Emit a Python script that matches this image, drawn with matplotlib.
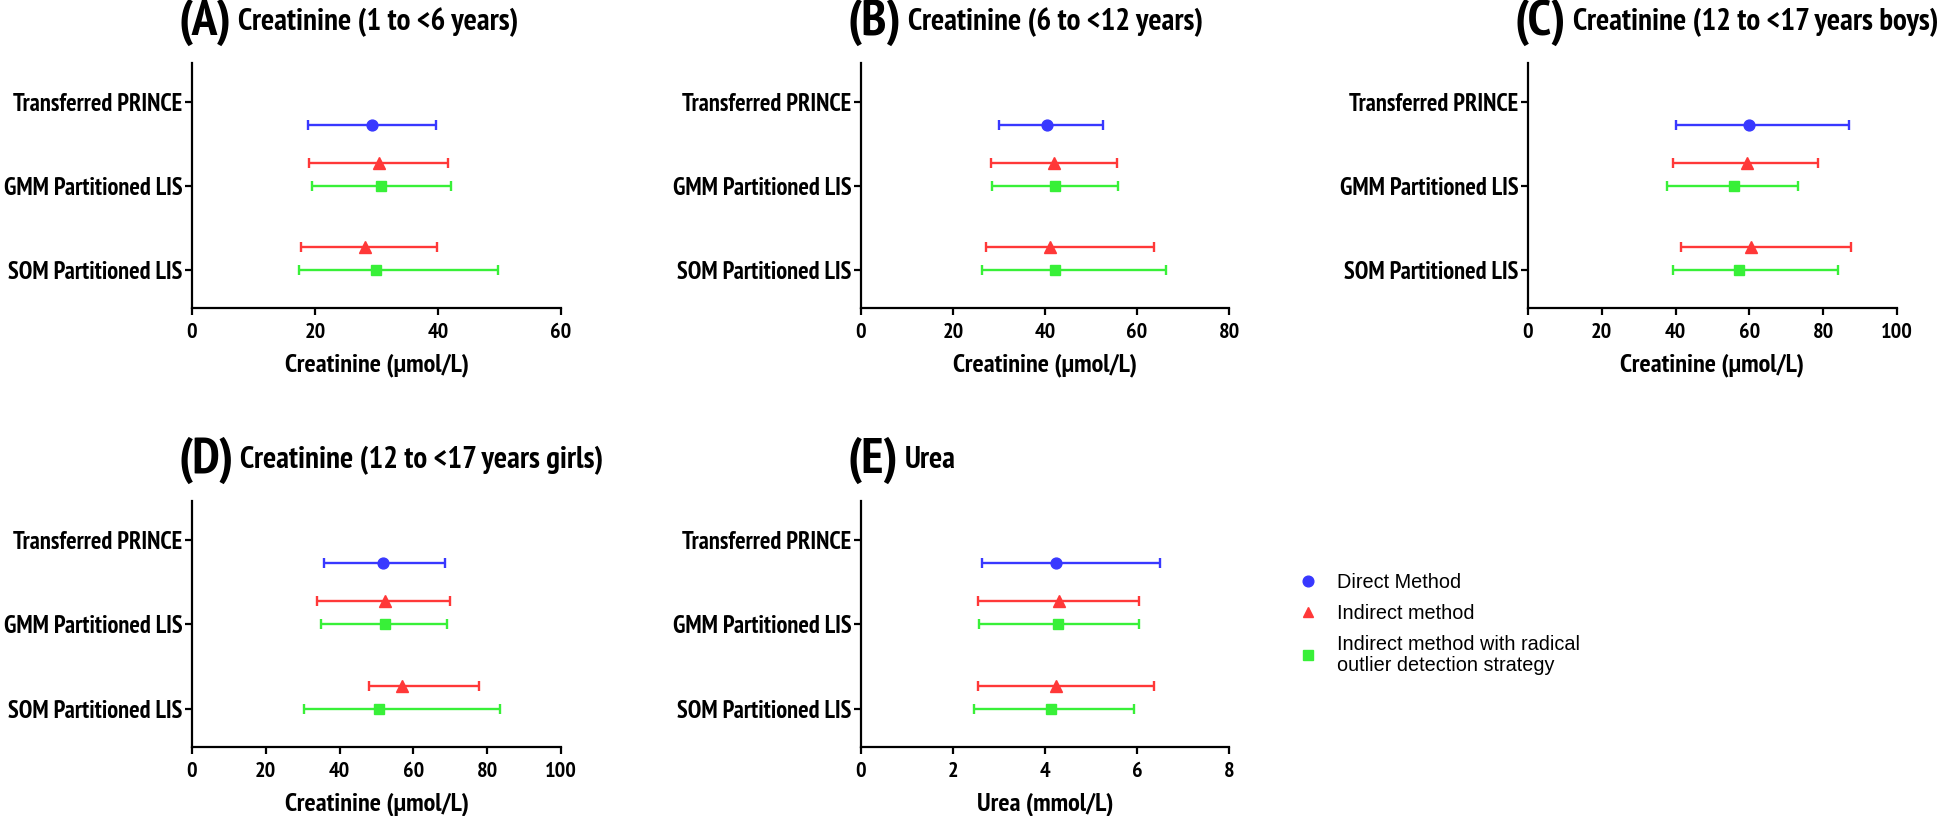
import matplotlib
matplotlib.use("Agg")
import matplotlib.pyplot as plt
from matplotlib import font_manager as fm
from matplotlib.lines import Line2D

# ---------------- data ----------------
categories = ["Transferred PRINCE", "GMM Partitioned LIS", "SOM Partitioned LIS"]
legend_labels = ["Direct Method", "Indirect method",
                 "Indirect method with radical\noutlier detection strategy"]

panel_letters = ["(A)", "(B)", "(C)", "(D)", "(E)"]
panel_titles = ["Creatinine (1 to <6 years)", "Creatinine (6 to <12 years)",
                "Creatinine (12 to <17 years boys)", "Creatinine (12 to <17 years girls)",
                "Urea"]
x_labels = ["Creatinine (\u03bcmol/L)", "Creatinine (\u03bcmol/L)", "Creatinine (\u03bcmol/L)",
            "Creatinine (\u03bcmol/L)", "Urea (mmol/L)"]
x_max = [60, 80, 100, 100, 8]
x_step = [20, 20, 20, 20, 2]

# Direct method (Transferred PRINCE): [low, center, high]
direct = [
    [18.9, 29.3, 39.6],
    [29.9, 40.5, 52.5],
    [40.2, 60.0, 87.1],
    [35.8, 51.7, 68.6],
    [2.62, 4.24, 6.50],
]
# Indirect method: GMM, SOM rows -> [low, center, high]
indirect = [
    [[19.1, 30.4, 41.7], [17.8, 28.2, 39.9]],
    [[28.2, 41.9, 55.6], [27.1, 41.0, 63.8]],
    [[39.4, 59.3, 78.6], [41.4, 60.4, 87.5]],
    [[34.0, 52.2, 69.9], [48.0, 56.9, 77.7]],
    [[2.54, 4.31, 6.05], [2.55, 4.24, 6.36]],
]
# Indirect method with radical outlier detection: GMM, SOM
radical = [
    [[19.5, 30.7, 42.1], [17.4, 29.9, 49.7]],
    [[28.5, 42.2, 55.8], [26.4, 42.2, 66.2]],
    [[37.7, 55.8, 73.3], [39.4, 57.2, 84.0]],
    [[35.0, 52.4, 69.1], [30.4, 50.6, 83.6]],
    [[2.57, 4.29, 6.05], [2.45, 4.12, 5.93]],
]

# ---------------- style ----------------
BLUE = "#3838FF"
RED = "#FF3838"
GREEN = "#38F038"

ttf = fm.fontManager.ttflist
names = {f.name for f in ttf}


def pick_condensed():
    for f in ttf:
        if "Narrow" in f.name and f.weight in (700, "bold"):
            return dict(family=f.name)
    for f in ttf:
        if "Condensed" in f.name and f.weight in (700, "bold"):
            return dict(family=f.name)
    for f in ttf:
        if f.name == "DejaVu Sans" and f.stretch == "condensed" and f.weight in (700, "bold"):
            return dict(family="DejaVu Sans", fontstretch="condensed")
    if "Roboto" in names:
        return dict(family="Roboto")
    return dict(family="Liberation Sans")


COND = pick_condensed()
COND["fontweight"] = "bold"
REG = dict(family="Liberation Sans" if "Liberation Sans" in names else "DejaVu Sans")

W, H = 1944, 816
fig = plt.figure(figsize=(W / 100, H / 100), dpi=100)
renderer = fig.canvas.get_renderer()


def text_width(s, props):
    t = fig.text(0, 0, s, fontsize=20, **props)
    w = t.get_window_extent(renderer).width
    t.remove()
    return w


def fitted(strings, target, props):
    w = max(text_width(s, props) for s in strings)
    return 20.0 * target / w


FS_LETTER = fitted(["(A)"], 53, COND)
FS_TITLE = fitted(["Creatinine (1 to <6 years)"], 280, COND)
FS_YTICK = fitted(categories, 179, COND)
FS_XTICK = fitted(["100"], 32, COND)
FS_XLAB = fitted(["Creatinine (\u03bcmol/L)"], 184, COND)
FS_LEG = fitted(["Direct Method"], 123, REG)

# axes boxes in pixels: left, right, top, bottom
boxes = [
    (192, 561, 63, 308),
    (861, 1229, 63, 308),
    (1528, 1897, 63, 308),
    (192, 561, 501, 747),
    (861, 1229, 501, 747),
]
title_y = [22, 22, 22, 460, 460]

OFF = 0.272
for i in range(5):
    l, r, t, b = boxes[i]
    ax = fig.add_axes([l / W, 1 - b / H, (r - l) / W, (b - t) / H])
    ekw = dict(lw=1.7, capsize=3.6, capthick=1.7, ls="none")
    lo, c, hi = direct[i]
    ax.errorbar([c], [0 + OFF], xerr=[[c - lo], [hi - c]], color=BLUE,
                marker="o", ms=7.8, **ekw)
    for j in range(2):
        lo, c, hi = indirect[i][j]
        ax.errorbar([c], [j + 1 - OFF], xerr=[[c - lo], [hi - c]], color=RED,
                    marker="^", ms=8, **ekw)
        lo, c, hi = radical[i][j]
        ax.errorbar([c], [j + 1], xerr=[[c - lo], [hi - c]], color=GREEN,
                    marker="s", ms=7.8, **ekw)

    ax.set_ylim(2.45, -0.46)
    ax.set_xlim(0, x_max[i])
    ax.set_xticks(list(range(0, x_max[i] + 1, x_step[i])))
    ax.set_xticklabels([str(v) for v in range(0, x_max[i] + 1, x_step[i])],
                       fontsize=FS_XTICK, **COND)
    ax.set_yticks([0, 1, 2])
    ax.set_yticklabels(categories, fontsize=FS_YTICK, **COND)
    for s in ["top", "right"]:
        ax.spines[s].set_visible(False)
    for s in ["left", "bottom"]:
        ax.spines[s].set_linewidth(1.6)
    ax.tick_params(axis="both", width=1.6, length=5, direction="out")
    ax.tick_params(axis="y", pad=2)
    ax.tick_params(axis="x", pad=6)
    ax.set_xlabel(x_labels[i], fontsize=FS_XLAB, labelpad=8, **COND)

    # titles
    tx = (l - 14) / W
    ty = 1 - title_y[i] / H
    tl = fig.text(tx, ty, panel_letters[i], fontsize=FS_LETTER,
                  va="center", ha="left", **COND)
    bb = tl.get_window_extent(renderer)
    fig.text((bb.x1 + 7) / W, ty, panel_titles[i], fontsize=FS_TITLE,
             va="center", ha="left", **COND)

handles = [
    Line2D([], [], ls="none", marker="o", color=BLUE, ms=7.7),
    Line2D([], [], ls="none", marker="^", color=RED, ms=7.7),
    Line2D([], [], ls="none", marker="s", color=GREEN, ms=7.2),
]
leg = fig.legend(handles, legend_labels, loc="center left",
                 bbox_to_anchor=(1280 / W, 1 - 624 / H), frameon=False,
                 prop=dict(size=FS_LEG, **REG), handlelength=1.0, handletextpad=0.95,
                 labelspacing=0.6, borderpad=0.4)
for txt in leg.get_texts():
    txt.set_linespacing(1.1)

fig.savefig("out.png", dpi=100)
